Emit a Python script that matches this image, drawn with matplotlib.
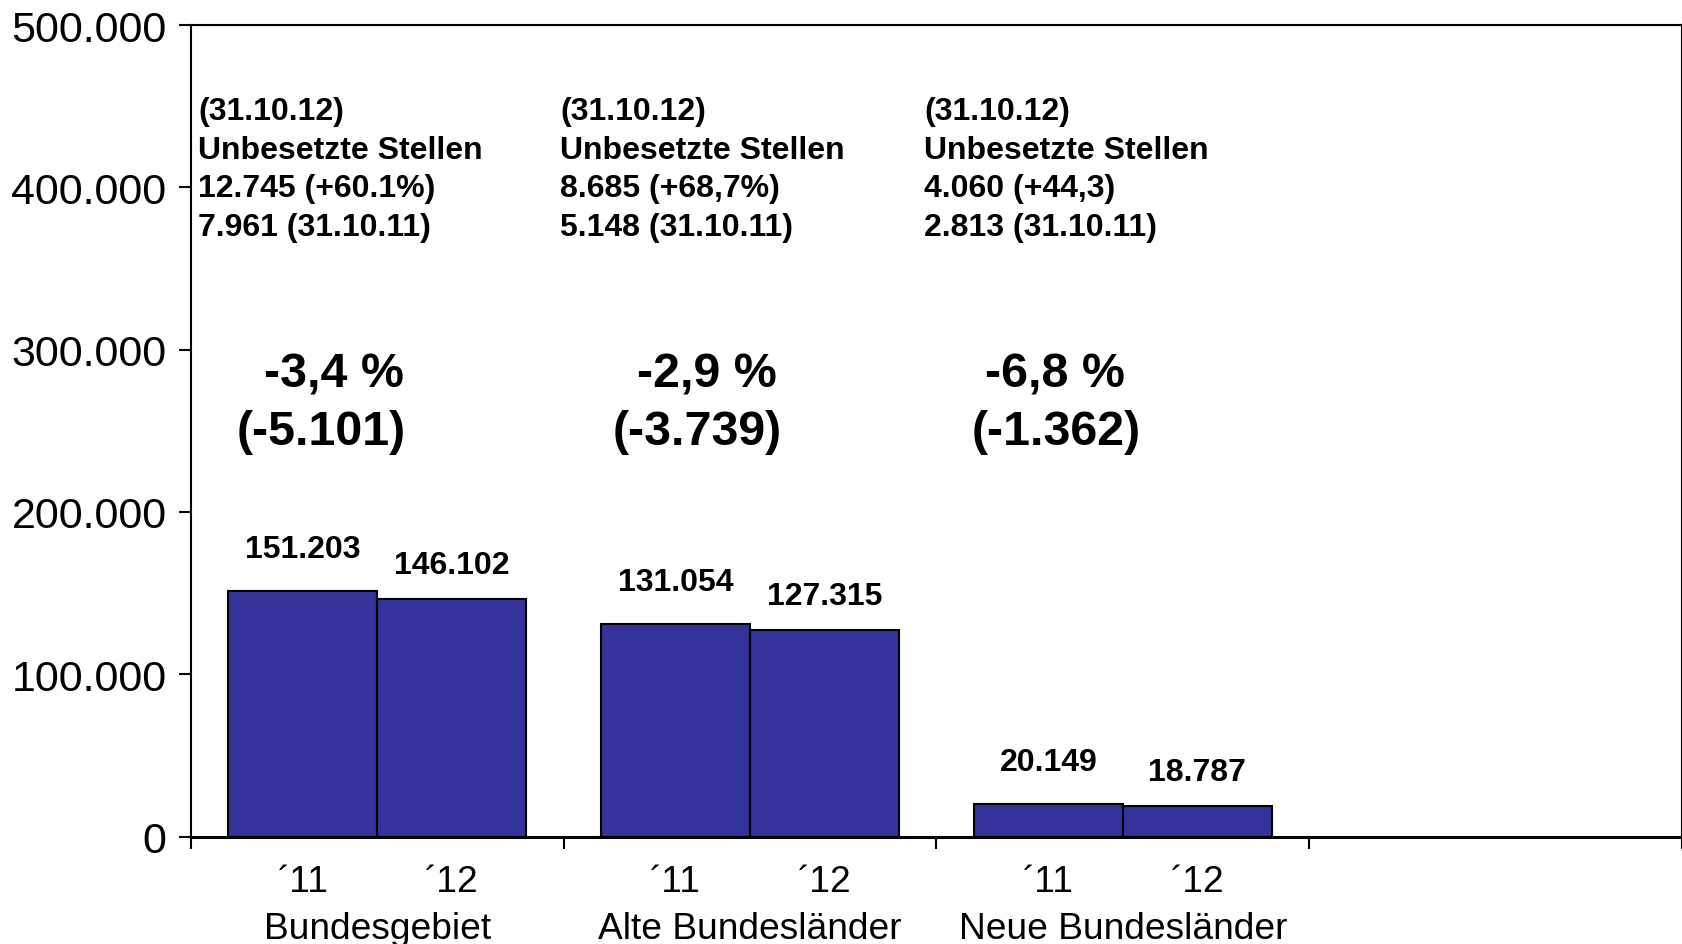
import matplotlib
matplotlib.use("Agg")
import matplotlib.pyplot as plt
import matplotlib.transforms as mtransforms

plt.rcParams['font.family'] = ['Liberation Sans', 'DejaVu Sans']

# ---- data ----
categories = ["Bundesgebiet", "Alte Bundesländer", "Neue Bundesländer"]
years = ["´11", "´12"]
values_11 = [151203, 131054, 20149]
values_12 = [146102, 127315, 18787]
value_labels_11 = ["151.203", "131.054", "20.149"]
value_labels_12 = ["146.102", "127.315", "18.787"]
change_pct = ["-3,4 %", "-2,9 %", "-6,8 %"]
change_abs = ["(-5.101)", "(-3.739)", "(-1.362)"]
info_lines = [
    ["(31.10.12)", "Unbesetzte Stellen", "12.745 (+60.1%)", "7.961 (31.10.11)"],
    ["(31.10.12)", "Unbesetzte Stellen", "8.685 (+68,7%)", "5.148 (31.10.11)"],
    ["(31.10.12)", "Unbesetzte Stellen", "4.060 (+44,3)", "2.813 (31.10.11)"],
]
y_ticks = [0, 100000, 200000, 300000, 400000, 500000]
y_tick_labels = ["0", "100.000", "200.000", "300.000", "400.000", "500.000"]

bar_color = "#333399"

W, H = 1683, 945
fig = plt.figure(figsize=(W/100, H/100), dpi=100)
ax_left, ax_right, ax_top, ax_bottom = 191, 1682, 26, 837.5
ax = fig.add_axes([ax_left/W, 1 - ax_bottom/H, (ax_right - ax_left)/W, (ax_bottom - ax_top)/H])

n_slots = 4
bw = 0.4
centers = [i + 0.5 for i in range(len(categories))]
x11 = [c - bw/2 for c in centers]
x12 = [c + bw/2 for c in centers]

ax.bar(x11, values_11, width=bw, color=bar_color, edgecolor="black", linewidth=1.5, zorder=2)
ax.bar(x12, values_12, width=bw, color=bar_color, edgecolor="black", linewidth=1.5, zorder=2)

ax.set_xlim(0, n_slots)
ax.set_ylim(0, 500000)

ax.set_yticks(y_ticks)
ax.set_yticklabels(y_tick_labels, fontsize=31)
ax.set_xticks(range(n_slots + 1))
ax.set_xticklabels([])
ax.tick_params(axis='y', direction='out', length=8.6, width=1.5, pad=9)
ax.tick_params(axis='x', direction='out', length=8.3, width=1.5)
for s in ax.spines.values():
    s.set_linewidth(1.5)
ax.spines['bottom'].set_linewidth(2.2)

# value labels
for x, v, lab in zip(x11, values_11, value_labels_11):
    ax.annotate(lab, (x, v), xytext=(0, 30), textcoords='offset points',
                ha='center', va='center', fontsize=23, fontweight='bold')
for x, v, lab in zip(x12, values_12, value_labels_12):
    ax.annotate(lab, (x, v), xytext=(0, 24.5), textcoords='offset points',
                ha='center', va='center', fontsize=23, fontweight='bold')

# info texts
info_x = [0.02, 0.99, 1.967]
for i, lines in enumerate(info_lines):
    for k, line in enumerate(lines):
        ax.text(info_x[i], 447000 - k * 23780, line, ha='left', va='center',
                fontsize=23, fontweight='bold')

# change texts
pct_x = [0.383, 1.384, 2.318]
abs_x = [0.348, 1.357, 2.32]
for i in range(len(categories)):
    ax.text(pct_x[i], 285200, change_pct[i], ha='center', va='center',
            fontsize=34.8, fontweight='bold')
    ax.text(abs_x[i], 249500, change_abs[i], ha='center', va='center',
            fontsize=34.8, fontweight='bold')

# x labels
trans = mtransforms.blended_transform_factory(ax.transData, ax.transAxes)
for x in x11:
    ax.text(x, -0.0555, years[0], transform=trans, ha='center', va='center', fontsize=26.7)
for x in x12:
    ax.text(x, -0.0555, years[1], transform=trans, ha='center', va='center', fontsize=26.7)
for c, name in zip(centers, categories):
    ax.text(c, -0.1128, name, transform=trans, ha='center', va='center', fontsize=26.7)

fig.savefig("out.png", dpi=100)
